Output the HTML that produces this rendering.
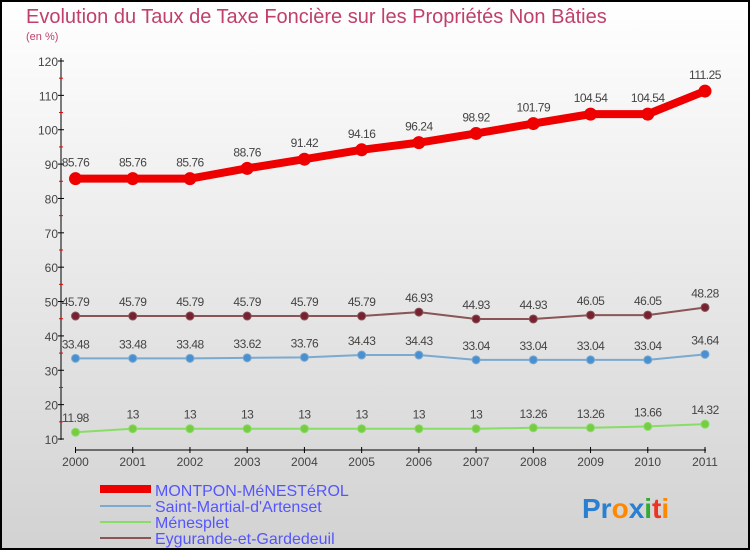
<!DOCTYPE html>
<html><head><meta charset="utf-8"><style>
body{margin:0;width:750px;height:550px;overflow:hidden}
svg{display:block;font-family:"Liberation Sans",sans-serif}
</style></head><body>
<svg width="750" height="550">
<defs><linearGradient id="bg" x1="0" y1="0" x2="0" y2="1"><stop offset="0" stop-color="#ffffff"/><stop offset="1" stop-color="#d2d2d2"/></linearGradient></defs>
<rect x="1" y="1" width="748" height="548" fill="url(#bg)" stroke="#000" stroke-width="2"/>
<text x="26" y="23" font-size="20" fill="#c0406a">Evolution du Taux de Taxe Foncière sur les Propriétés Non Bâties</text>
<text x="26" y="40" font-size="11" fill="#c0406a">(en %)</text>
<g id="axes"></g><g id="series"></g>
<g>
<rect x="100" y="485" width="51" height="8" fill="#ee0000"/>
<text x="155" y="496" font-size="16" fill="#5555ff">MONTPON-MéNESTéROL</text>
<rect x="100" y="505" width="51" height="2" fill="#7aaad0"/>
<text x="155" y="512" font-size="16" fill="#5555ff">Saint-Martial-d'Artenset</text>
<rect x="100" y="521" width="51" height="2" fill="#88dd66"/>
<text x="155" y="528" font-size="16" fill="#5555ff">Ménesplet</text>
<rect x="100" y="537" width="51" height="2" fill="#8a5555"/>
<text x="155" y="544" font-size="16" fill="#5555ff">Eygurande-et-Gardedeuil</text>
</g>
<text x="582" y="518" font-size="28" font-weight="bold"><tspan fill="#2a7fd0">Pr</tspan><tspan fill="#ff8800">o</tspan><tspan fill="#2a7fd0">x</tspan><tspan fill="#33aa33">i</tspan><tspan fill="#ee3322">t</tspan><tspan fill="#ff8800">i</tspan></text>
</svg>
<script>
const years=["2000","2001","2002","2003","2004","2005","2006","2007","2008","2009","2010","2011"];
const montpon=[85.76,85.76,85.76,88.76,91.42,94.16,96.24,98.92,101.79,104.54,104.54,111.25];
const saintMartial=[33.48,33.48,33.48,33.62,33.76,34.43,34.43,33.04,33.04,33.04,33.04,34.64];
const menesplet=[11.98,13,13,13,13,13,13,13,13.26,13.26,13.66,14.32];
const eygurande=[45.79,45.79,45.79,45.79,45.79,45.79,46.93,44.93,44.93,46.05,46.05,48.28];
const yTicks=[10,20,30,40,50,60,70,80,90,100,110,120];
const NS="http://www.w3.org/2000/svg";
const X=i=>75.5+i*(705-75.5)/11;
const Y=v=>439-(v-10)*(439-61)/110;
function mk(p,t,a){const e=document.createElementNS(NS,t);for(const k in a)e.setAttribute(k,a[k]);p.appendChild(e);return e;}
const ax=document.getElementById('axes');
const yl=mk(ax,'line',{x1:61,y1:58,x2:61,y2:440,stroke:'#000'});


yTicks.forEach(v=>{
 mk(ax,'line',{x1:58,x2:64,y1:Y(v),y2:Y(v),stroke:'#000'});
 if(v<120)mk(ax,'line',{x1:59,x2:63,y1:Y(v+5),y2:Y(v+5),stroke:'#e00'});
 const t=mk(ax,'text',{x:58,y:Y(v)+5,'text-anchor':'end','font-size':12,fill:'#444'});
 t.textContent=v;
 
 
});
const xl=mk(ax,'line',{x1:75,y1:450,x2:706,y2:450,stroke:'#000'});


years.forEach((y,i)=>{
 mk(ax,'line',{x1:X(i),x2:X(i),y1:447,y2:453,stroke:'#000'});
 const t=mk(ax,'text',{x:X(i),y:466,'text-anchor':'middle','font-size':12,fill:'#444'});
 t.textContent=y;
 
 
});
const sg=document.getElementById('series');
function series(name,vals,color,w,r,mcol,labels){
 const g=mk(sg,'g',{});
 
 
 mk(g,'polyline',{points:vals.map((v,i)=>X(i)+','+Y(v)).join(' '),fill:'none',stroke:color,'stroke-width':w,'stroke-linejoin':'round'});
 vals.forEach((v,i)=>{
  const c=mk(g,'circle',{cx:X(i),cy:Y(v),r:r,fill:mcol,stroke:color,'stroke-width':1});
  
  
  const t=mk(g,'text',{x:X(i),y:Y(v)-(r+6),'text-anchor':'middle','font-size':12,fill:'#444','letter-spacing':'-0.5'});
  t.textContent=String(v);
  
  
 });
}
series('menesplet',menesplet,'#88dd66',2,4,'#77cc44');
series('saint-martial',saintMartial,'#7aaad0',2,4,'#4a90d0');
series('eygurande',eygurande,'#8a5555',2,4,'#772233');
series('montpon',montpon,'#ee0000',8,6,'#ee0000');
</script>
</body></html>
